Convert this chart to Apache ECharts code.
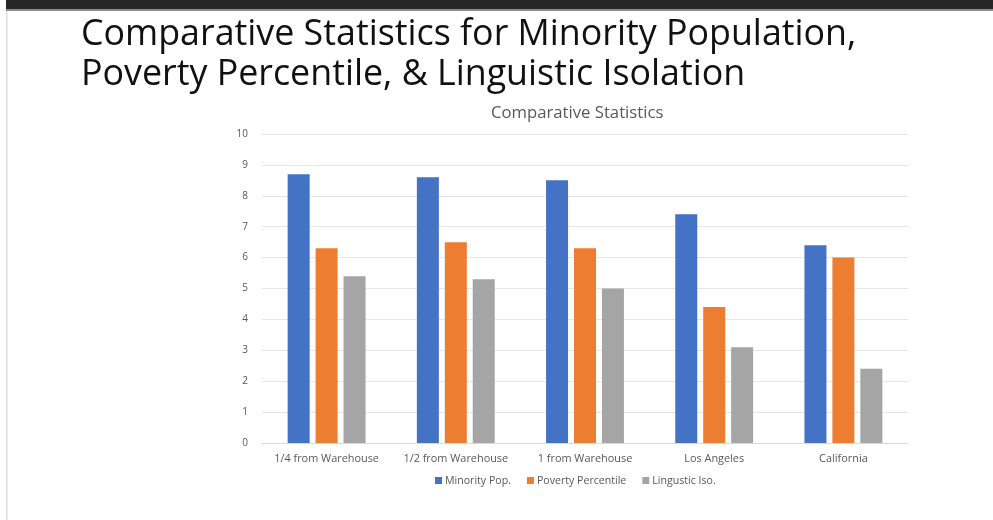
<!DOCTYPE html>
<html>
<head>
<meta charset="utf-8">
<script src="https://cdn.jsdelivr.net/npm/echarts@6/dist/echarts.min.js"></script>
<style>
html,body{margin:0;padding:0;background:#fff;}
#c{width:993px;height:520px;}
</style>
</head>
<body>
<div id="c"></div>
<script>
const categories = ['1/4 from Warehouse', '1/2 from Warehouse', '1 from Warehouse', 'Los Angeles', 'California'];
const minorityPop = [8.7, 8.6, 8.5, 7.4, 6.4];
const povertyPercentile = [6.3, 6.5, 6.3, 4.4, 6.0];
const linguisticIso = [5.4, 5.3, 5.0, 3.1, 2.4];
const seriesNames = ['Minority Pop.', 'Poverty Percentile', 'Lingustic Iso.'];

const chart = echarts.init(document.getElementById('c'));
const labelFont = '"Open Sans", sans-serif';
chart.setOption({
  animation: false,
  color: ['#4472C4', '#ED7D31', '#A5A5A5'],
  graphic: [
    { type: 'rect', shape: { x: 6, y: 0, width: 987, height: 9 }, style: { fill: '#262626' } },
    { type: 'rect', shape: { x: 6, y: 9, width: 987, height: 2 }, style: { fill: '#8c8c8c' } },
    { type: 'rect', shape: { x: 6, y: 11, width: 1.5, height: 509 }, style: { fill: '#e0e0e0' } },
    { type: 'text', left: 81, top: 15, style: {
        text: 'Comparative Statistics for Minority Population,\nPoverty Percentile, & Linguistic Isolation',
        font: '35.8px "Open Sans", sans-serif', fill: '#111', lineHeight: 40 } }
  ],
  title: {
    text: 'Comparative Statistics',
    left: 486, top: 100,
    textStyle: { fontFamily: labelFont, fontSize: 16.7, fontWeight: 'normal', color: '#595959' }
  },
  legend: {
    data: seriesNames,
    left: 430, top: 470,
    itemWidth: 7, itemHeight: 7, itemGap: 16,
    icon: 'rect',
    textStyle: { fontFamily: labelFont, fontSize: 10.6, color: '#595959', padding: [0, 0, 0, -2] }
  },
  grid: { left: 262, right: 85, top: 134, bottom: 77, containLabel: false },
  xAxis: {
    type: 'category',
    data: categories,
    axisLine: { lineStyle: { color: '#d9d9d9' } },
    axisTick: { show: false },
    axisLabel: { interval: 0, fontFamily: labelFont, fontSize: 10.9, color: '#595959', margin: 10 }
  },
  yAxis: {
    type: 'value', min: 0, max: 10, interval: 1,
    axisLine: { show: false }, axisTick: { show: false },
    splitLine: { lineStyle: { color: '#e6e6e6' } },
    axisLabel: { fontFamily: labelFont, fontSize: 10, color: '#595959', margin: 14 }
  },
  series: [
    { name: seriesNames[0], type: 'bar', data: minorityPop, barWidth: 22, barGap: '27%' },
    { name: seriesNames[1], type: 'bar', data: povertyPercentile, barWidth: 22, barGap: '27%' },
    { name: seriesNames[2], type: 'bar', data: linguisticIso, barWidth: 22, barGap: '27%' }
  ]
});
</script>
</body>
</html>
